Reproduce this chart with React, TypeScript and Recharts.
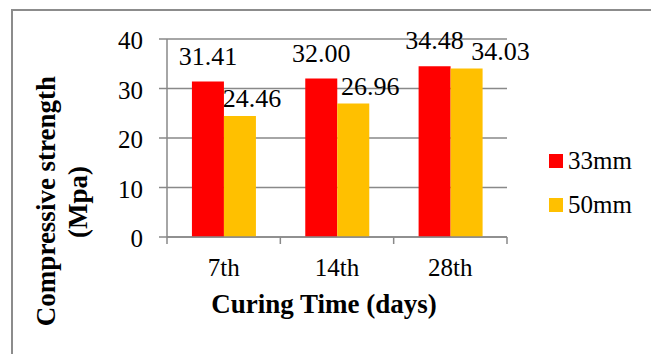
import React from 'react';
import { BarChart, Bar, XAxis, YAxis, CartesianGrid, Legend, LabelList } from 'recharts';

const categories = ['7th', '14th', '28th'];
const series33mm = [31.41, 32.0, 34.48];
const series50mm = [24.46, 26.96, 34.03];
const seriesNames = ['33mm', '50mm'];
const yTicks = [0, 10, 20, 30, 40];

const data = categories.map((day, i) => ({ day, s33: series33mm[i], s50: series50mm[i] }));

const FONT = 'Liberation Serif';
const GRID = '#898989';
const COLORS = ['#FF0000', '#FFC000'];
// excel had the 50mm labels dragged sideways so they don't collide
const DX_50 = [12, 17, 34];

const CategoryTick = (props: any) => {
  const { x, y, payload, index, visibleTicksCount } = props;
  const half = payload && payload.offset ? payload.offset : 56.7;
  const last = index === (visibleTicksCount ?? categories.length) - 1;
  return (
    <g>
      <line x1={x - half} x2={x - half} y1={y - 21} y2={y - 14} stroke={GRID} strokeWidth={1.5} />
      {last && <line x1={x + half} x2={x + half} y1={y - 21} y2={y - 14} stroke={GRID} strokeWidth={1.5} />}
      <text x={x} y={y} dy="0.71em" textAnchor="middle" fontFamily={FONT} fontSize={25} fill="#000">
        {payload.value}
      </text>
    </g>
  );
};

const YTick = (props: any) => {
  const { x, y, payload } = props;
  return (
    <text x={x} y={y} dy="0.4em" textAnchor="end" fontFamily={FONT} fontSize={25} fill="#000">
      {payload.value}
    </text>
  );
};

const makeLabel = (values: number[], dy: number, dxs: number[] | null) => (props: any) => {
  const { x, y, width, value } = props;
  let i = props.index;
  if (i === undefined) i = values.indexOf(value);
  const dx = dxs ? dxs[i] ?? 0 : 0;
  return (
    <text x={x + width / 2 + dx} y={y - dy} textAnchor="middle" fontFamily={FONT} fontSize={26} fill="#000">
      {Number(value).toFixed(2)}
    </text>
  );
};

const YTitle = () => (
  <g fontFamily={FONT} fontSize={27} fontWeight="bold" fill="#000">
    <text transform="translate(55, 201) rotate(-90)" textAnchor="middle">Compressive strength</text>
    <text transform="translate(87, 202) rotate(-90)" textAnchor="middle">(Mpa)</text>
  </g>
);

const XTitle = () => (
  <text x={324} y={313} textAnchor="middle" fontFamily={FONT} fontSize={27} fontWeight="bold" fill="#000">
    Curing Time (days)
  </text>
);

const LegendBox = () => (
  <div style={{ fontFamily: FONT, fontSize: 25, color: '#000' }}>
    {seriesNames.map((name, i) => (
      <div key={name} style={{ display: 'flex', alignItems: 'center', height: 44 }}>
        <span style={{ width: 14, height: 14, background: COLORS[i], marginRight: 5, display: 'inline-block' }} />
        <span>{name}</span>
      </div>
    ))}
  </div>
);

export default function App() {
  return (
    <div style={{ position: 'fixed', left: 0, top: 0, width: 651, height: 354, overflow: 'hidden', background: '#fff', fontFamily: FONT }}>
      <div
        style={{
          position: 'absolute',
          left: 11,
          top: 9,
          width: 700,
          height: 400,
          border: '2px solid #8c8c8c',
        }}
      />
      <div style={{ position: 'absolute', left: 0, top: 0 }}>
        <BarChart
          width={651}
          height={354}
          data={data}
          margin={{ top: 39, right: 144, left: 0, bottom: 57 }}
          barCategoryGap="22%"
          barGap={0}
        >
          <CartesianGrid vertical={false} stroke={GRID} strokeWidth={1.5} />
          <XAxis
            dataKey="day"
            height={60}
            tickSize={0}
            tickMargin={21}
            tickLine={false}
            axisLine={{ stroke: GRID, strokeWidth: 1.5 }}
            tick={<CategoryTick />}
            interval={0}
            label={<XTitle />}
          />
          <YAxis
            width={167}
            domain={[0, 40]}
            ticks={yTicks}
            tickSize={8}
            tickMargin={16}
            axisLine={{ stroke: GRID, strokeWidth: 1.5 }}
            tickLine={{ stroke: GRID, strokeWidth: 1.5 }}
            tick={<YTick />}
            label={<YTitle />}
          />
          <Legend
            layout="vertical"
            align="center"
            verticalAlign="middle"
            content={<LegendBox />}
            wrapperStyle={{ left: 549, top: 139, width: 100 }}
          />
          <Bar dataKey="s33" name={seriesNames[0]} fill={COLORS[0]} isAnimationActive={false}>
            <LabelList dataKey="s33" content={makeLabel(series33mm, 17, null)} />
          </Bar>
          <Bar dataKey="s50" name={seriesNames[1]} fill={COLORS[1]} isAnimationActive={false}>
            <LabelList dataKey="s50" content={makeLabel(series50mm, 8.5, DX_50)} />
          </Bar>
        </BarChart>
      </div>
    </div>
  );
}
